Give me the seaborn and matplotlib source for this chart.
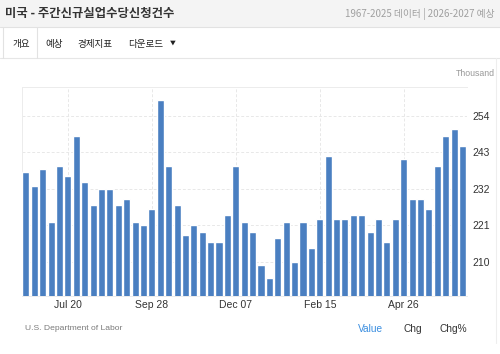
import numpy as np
import pandas as pd
import matplotlib
matplotlib.use("Agg")
import matplotlib.pyplot as plt
import seaborn as sns

# weekly initial jobless claims (thousand), week ending Jun 15 2024 .. Jun 14 2025
weeks = pd.date_range("2024-06-15", periods=53, freq="7D")
claims = [237, 233, 238, 222, 239, 236, 248, 234, 227, 232, 232, 227, 229, 222,
          221, 226, 259, 239, 227, 218, 221, 219, 216, 216, 224, 239, 222, 219,
          209, 205, 217, 222, 210, 222, 214, 223, 242, 223, 223, 224, 224, 219,
          223, 216, 223, 241, 229, 229, 226, 239, 248, 250, 245]
tick_labels = ["Jul 20", "Sep 28", "Dec 07", "Feb 15", "Apr 26"]
y_ticks = [210, 221, 232, 243, 254]

df = pd.DataFrame({"week": weeks.strftime("%b %d"), "claims": claims})

sns.set_style("white")
plt.rcParams["font.family"] = ["Liberation Sans", "Noto Sans CJK KR", "DejaVu Sans"]
kr = ["Noto Sans CJK KR", "DejaVu Sans"]

W, H = 500, 354
fig = plt.figure(figsize=(5, 3.54), dpi=100)
fig.patch.set_facecolor("white")

# header band + tab row
fig.patches.append(plt.Rectangle((0, 1 - 27 / H), 1, 27 / H, transform=fig.transFigure,
                                 facecolor="#f4f4f4", edgecolor="none", zorder=0))
fig.add_artist(plt.Line2D([0, 1], [1 - 27 / H] * 2, color="#e2e2e2", lw=0.8))
fig.add_artist(plt.Line2D([0, 1], [1 - 58 / H] * 2, color="#e6e6e6", lw=0.8))
fig.add_artist(plt.Line2D([3 / W] * 2, [1 - 58 / H, 1 - 27 / H], color="#e2e2e2", lw=0.8))
fig.add_artist(plt.Line2D([37 / W] * 2, [1 - 58 / H, 1 - 27 / H], color="#e2e2e2", lw=0.8))
fig.add_artist(plt.Line2D([496 / W] * 2, [0.03, 1 - 58 / H], color="#eeeeee", lw=0.8))

fig.text(5 / W, 1 - 14 / H, "미국 - 주간신규실업수당신청건수", family=kr, fontsize=8.9,
         fontweight="bold", color="#333333", va="center")
fig.text(495 / W, 1 - 14 / H, "1967-2025 데이터 | 2026-2027 예상", family=kr, fontsize=7.0,
         color="#a0a0a0", va="center", ha="right")
for x, t in [(12, "개요"), (45, "예상"), (77, "경제지표"), (128, "다운로드")]:
    fig.text(x / W, 1 - 44 / H, t, family=kr, fontsize=6.9, color="#222222", va="center")
fig.text(170 / W, 1 - 43 / H, "▼", family=kr, fontsize=4.2, color="#222222", va="center")

ax = fig.add_axes([21.7 / W, 1 - 296 / H, 445 / W, 209.3 / H])
sns.barplot(data=df, x="week", y="claims", color="#4a7fc1", saturation=1,
            width=0.84, ax=ax, zorder=3)

ax.set_ylim(199.6, 262.9)
ax.set_xlim(-0.5, len(claims) - 0.5)
ax.yaxis.tick_right()
ax.set_yticks(y_ticks)
ax.set_yticklabels([str(v) for v in y_ticks])
pos = [i for i, w in enumerate(df["week"]) if w in tick_labels]
ax.set_xticks(pos)
ax.set_xticklabels([df["week"][i] for i in pos])
ax.tick_params(axis="both", length=0, labelsize=7.5, colors="#333333")
ax.tick_params(axis="y", pad=4)
ax.tick_params(axis="x", pad=3)
ax.set_xlabel("")
ax.set_ylabel("")
ax.grid(True, color="#e8e8e8", lw=0.7, ls=(0, (3, 2)), zorder=0)
for s in ["left", "top", "bottom"]:
    ax.spines[s].set_color("#ececec")
    ax.spines[s].set_linewidth(0.7)
ax.spines["right"].set_visible(False)

fig.text(495 / W, 1 - 73 / H, "Thousand", fontsize=6.3, color="#999999", ha="right", va="center")
fig.text(25 / W, 1 - 329 / H, "U.S. Department of Labor", fontsize=6.1, color="#7a7a7a", va="center")
fig.text(358 / W, 1 - 329 / H, "Value", fontsize=7.3, color="#3a8ee0", va="center")
fig.text(403 / W, 1 - 329 / H, "Chg", fontsize=7.3, color="#333333", va="center")
fig.text(439 / W, 1 - 329 / H, "Chg%", fontsize=7.3, color="#333333", va="center")

fig.savefig("out.png", dpi=100)
